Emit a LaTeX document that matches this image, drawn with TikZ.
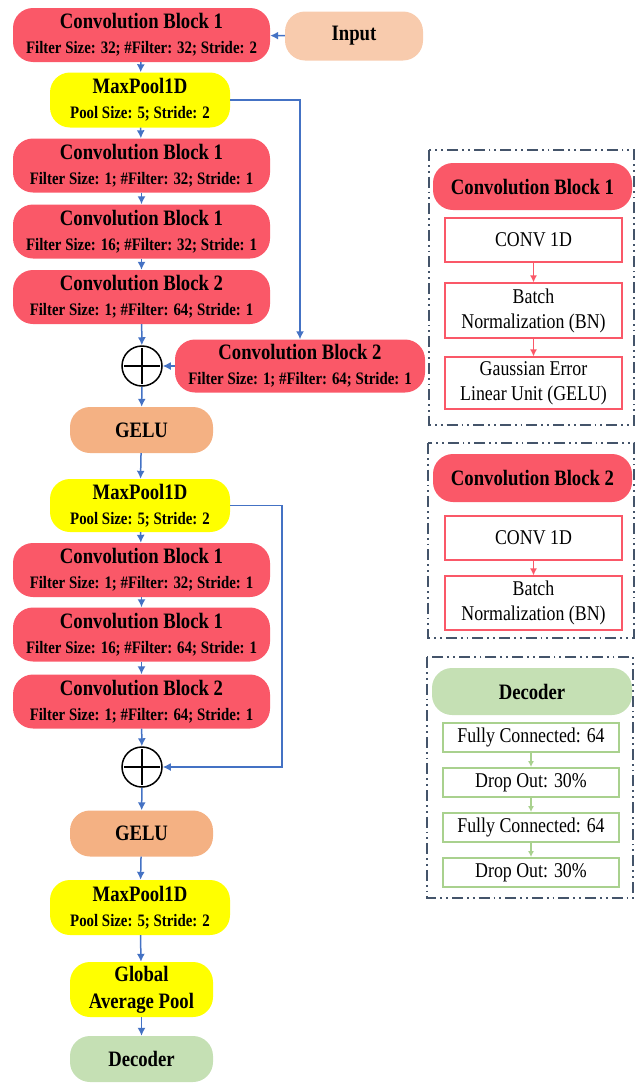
\documentclass[tikz,border=0pt]{standalone}
\usepackage{xcolor}
\usepackage{fontspec}
\setmainfont{Liberation Serif}[FakeStretch=0.85]
\usepackage{tikz}
\usetikzlibrary{positioning,arrows.meta,calc}

\definecolor{convred}{RGB}{250,88,104}
\definecolor{poolyellow}{RGB}{255,255,0}
\definecolor{gelupeach}{RGB}{244,177,131}
\definecolor{inputpeach}{RGB}{248,203,173}
\definecolor{decgreen}{RGB}{197,224,180}
\definecolor{declinegreen}{RGB}{169,209,142}
\definecolor{arrblue}{RGB}{68,114,196}
\definecolor{framegray}{RGB}{68,84,106}

\newcommand{\blocktitle}{\fontsize{22}{26}\selectfont\bfseries}
\newcommand{\blockparams}{\fontsize{17.5}{25}\selectfont\bfseries}
\newcommand{\layerfont}{\fontsize{21}{25}\selectfont}

\begin{document}
\begin{tikzpicture}[
  x=1pt, y=-1pt,
  convbox/.style={fill=convred, rounded corners=20pt, minimum width=257pt, minimum height=54pt, align=center, inner sep=0pt, font=\blockparams},
  poolbox/.style={fill=poolyellow, rounded corners=20pt, minimum width=180pt, minimum height=55pt, align=center, inner sep=0pt, font=\blockparams},
  actbox/.style={fill=gelupeach, rounded corners=20pt, minimum width=143pt, minimum height=46pt, align=center, inner sep=0pt, font=\blocktitle},
  headbox/.style={fill=convred, rounded corners=20pt, minimum width=199pt, minimum height=48pt, align=center, inner sep=0pt, font=\blocktitle},
  layerbox/.style={draw=convred, line width=1.2pt, fill=white, minimum width=177pt, align=center, inner sep=0pt, font=\layerfont},
  declayer/.style={draw=declinegreen, line width=1.8pt, fill=white, minimum width=176pt, minimum height=29pt, align=center, inner sep=0pt, font=\layerfont},
  sumnode/.style={circle, draw=black, line width=1.5pt, fill=white, minimum size=40pt, inner sep=0pt,
    path picture={\draw[line width=1.8pt] ([yshift=-2pt]path picture bounding box.north) -- ([yshift=2pt]path picture bounding box.south);
                  \draw[line width=1.8pt] ([xshift=2pt]path picture bounding box.west) -- ([xshift=-2pt]path picture bounding box.east);}},
  frame/.style={draw=framegray, line width=2pt, dash pattern=on 11pt off 4pt on 1.8pt off 4pt on 1.8pt off 4pt},
  arr/.style={-{Latex[length=8pt,width=8pt]}, draw=arrblue, line width=1.5pt},
  redarr/.style={-{Latex[length=7pt,width=7pt]}, draw=convred, line width=1.3pt},
  greenarr/.style={-{Latex[length=6pt,width=6pt]}, draw=declinegreen, line width=2pt}
]
\useasboundingbox (0,0) rectangle (642,1084);

% main column
\node[convbox] (cb1) at (141.5,35) {{\blocktitle Convolution Block 1}\\Filter Size: 32; \#Filter: 32; Stride: 2};
\node[actbox, fill=inputpeach, minimum width=138pt, minimum height=49pt] (input) at (354,36) {Input};
\node[poolbox] (mp1) at (140,100) {{\blocktitle MaxPool1D}\\Pool Size: 5; Stride: 2};
\node[convbox] (cb2) at (141.5,165.5) {{\blocktitle Convolution Block 1}\\Filter Size: 1; \#Filter: 32; Stride: 1};
\node[convbox] (cb3) at (141.5,231.5) {{\blocktitle Convolution Block 1}\\Filter Size: 16; \#Filter: 32; Stride: 1};
\node[convbox] (cb4) at (141.5,297) {{\blocktitle Convolution Block 2}\\Filter Size: 1; \#Filter: 64; Stride: 1};
\node[sumnode] (add1) at (142,366) {};
\node[convbox, minimum width=250pt, minimum height=53pt] (side1) at (300,366) {{\blocktitle Convolution Block 2}\\Filter Size: 1; \#Filter: 64; Stride: 1};
\node[actbox] (gelu1) at (141.5,430) {GELU};
\node[poolbox, minimum height=53pt] (mp2) at (140,505.5) {{\blocktitle MaxPool1D}\\Pool Size: 5; Stride: 2};
\node[convbox] (cb5) at (141.5,570) {{\blocktitle Convolution Block 1}\\Filter Size: 1; \#Filter: 32; Stride: 1};
\node[convbox] (cb6) at (141.5,634.5) {{\blocktitle Convolution Block 1}\\Filter Size: 16; \#Filter: 64; Stride: 1};
\node[convbox] (cb7) at (141.5,701.5) {{\blocktitle Convolution Block 2}\\Filter Size: 1; \#Filter: 64; Stride: 1};
\node[sumnode] (add2) at (142,767) {};
\node[actbox] (gelu2) at (141.5,833.5) {GELU};
\node[poolbox] (mp3) at (140,907.5) {{\blocktitle MaxPool1D}\\Pool Size: 5; Stride: 2};
\node[actbox, fill=poolyellow, minimum height=55pt, font=\fontsize{22}{27}\selectfont\bfseries] (gap) at (141.5,989.5) {Global\\Average Pool};
\node[actbox, fill=decgreen] (dec) at (141.5,1059) {Decoder};
\coordinate (turn2) at (282,505.5);

\draw[arr] (input) -- (cb1);
\draw[arr] (cb1) -- (mp1);
\draw[arr] (mp1) -- (cb2);
\draw[arr] (cb2) -- (cb3);
\draw[arr] (cb3) -- (cb4);
\draw[arr] (cb4) -- (add1);
\draw[arr] (mp1.east) -| (side1.north);
\draw[arr] (side1) -- (add1);
\draw[arr] (add1) -- (gelu1);
\draw[arr] (gelu1) -- (mp2);
\draw[arr] (mp2) -- (cb5);
\draw[arr] (cb5) -- (cb6);
\draw[arr] (cb6) -- (cb7);
\draw[arr] (cb7) -- (add2);
\draw[arr] (mp2.east) -- (turn2) |- (add2.east);
\draw[arr] (add2) -- (gelu2);
\draw[arr] (gelu2) -- (mp3);
\draw[arr] (mp3) -- (gap);
\draw[arr] (gap) -- (dec);

% legend: convolution block 1
\draw[frame] (429,150) rectangle (634,425);
\node[headbox, minimum height=47pt] (head1) at (532.5,186.5) {Convolution Block 1};
\node[layerbox, minimum height=44pt] (conv1) at (533.5,240) {CONV 1D};
\node[layerbox, minimum height=55pt] (bn1) at (533.5,310.5) {Batch\\Normalization (BN)};
\node[layerbox, minimum height=52pt] (act1) at (533.5,383) {Gaussian Error\\Linear Unit (GELU)};
\draw[redarr] (conv1) -- (bn1);
\draw[redarr] (bn1) -- (act1);

% legend: convolution block 2
\draw[frame] (428,443) rectangle (634,638);
\node[headbox] (head2) at (532.5,478) {Convolution Block 2};
\node[layerbox, minimum height=44pt] (conv2) at (533.5,538) {CONV 1D};
\node[layerbox, minimum height=54pt] (bn2) at (533.5,603) {Batch\\Normalization (BN)};
\draw[redarr] (conv2) -- (bn2);

% legend: decoder
\draw[frame] (427,657) rectangle (633,898);
\node[headbox, fill=decgreen, minimum width=200pt, minimum height=47pt] (head3) at (532,691.5) {Decoder};
\node[declayer] (fc1) at (531,737.5) {Fully Connected: 64};
\node[declayer] (do1) at (531,782.5) {Drop Out: 30\%};
\node[declayer] (fc2) at (531,827.5) {Fully Connected: 64};
\node[declayer] (do2) at (531,872.5) {Drop Out: 30\%};
\draw[greenarr] (fc1) -- (do1);
\draw[greenarr] (do1) -- (fc2);
\draw[greenarr] (fc2) -- (do2);
\end{tikzpicture}
\end{document}
